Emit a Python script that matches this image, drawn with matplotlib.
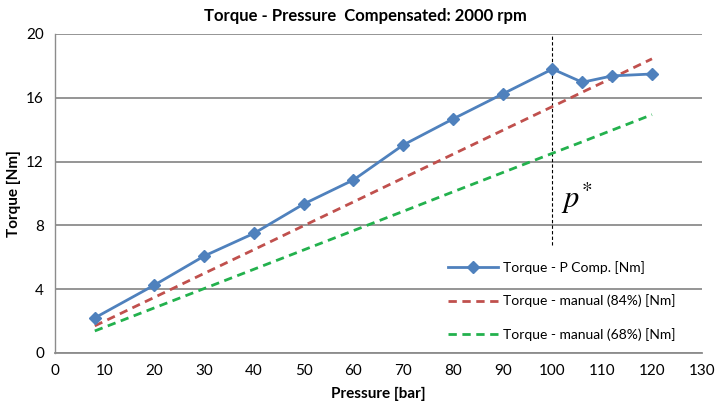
import numpy as np
import matplotlib.pyplot as plt

pressure = [8, 20, 30, 40, 50, 60, 70, 80, 90, 100, 106, 112, 120]
torque_pc = [2.2, 4.26, 6.08, 7.5, 9.34, 10.85, 13.04, 14.67, 16.24, 17.8, 16.97, 17.37, 17.49]
torque_84 = [1.70, 3.49, 4.99, 6.48, 7.98, 9.47, 10.97, 12.46, 13.96, 15.45, 16.35, 17.24, 18.44]
torque_68 = [1.38, 2.83, 4.04, 5.25, 6.46, 7.67, 8.88, 10.10, 11.31, 12.52, 13.24, 13.97, 14.94]
p_star = 100
p_star_range = [6.8, 20]

plt.rcParams['font.family'] = ['Lato', 'DejaVu Sans']

fig = plt.figure(figsize=(7.17, 4.09), dpi=100)
ax = fig.add_axes([0.0767, 0.137, 0.902, 0.780])

ax.plot(pressure, torque_pc, color='#4F81BD', lw=2, marker='D', ms=6,
        label='Torque - P Comp. [Nm]', zorder=4)
ax.plot(pressure, torque_84, color='#C0504D', lw=2, ls=(0, (3, 2)),
        label='Torque - manual (84%) [Nm]', zorder=3)
ax.plot(pressure, torque_68, color='#23B14D', lw=2, ls=(0, (3, 2)),
        label='Torque - manual (68%) [Nm]', zorder=3)

# p* marker line
ax.plot([p_star, p_star], p_star_range, color='black', lw=0.8, ls=(0, (3, 2)), zorder=2)
ax.text(101.8, 9.7, r'$p^{\!*}$', fontsize=22, math_fontfamily='stix', va='center', ha='left')

ax.set_xlim(0, 130)
ax.set_ylim(0, 20)
ax.set_xticks(np.arange(0, 131, 10))
ax.set_yticks(np.arange(0, 21, 4))
ax.yaxis.grid(True, color='#8C8C8C', lw=1.3)
ax.set_axisbelow(True)
ax.tick_params(length=0, labelsize=11, pad=8)

for s in ['top', 'right']:
    ax.spines[s].set_visible(False)
ax.spines['left'].set_color('#8C8C8C')
ax.spines['bottom'].set_color('#8C8C8C')
ax.spines['left'].set_linewidth(1.0)
ax.spines['bottom'].set_linewidth(1.3)

fig.text(0.509, 0.962, 'Torque - Pressure  Compensated: 2000 rpm', fontsize=12,
         fontweight='bold', ha='center', va='center')
ax.set_xlabel('Pressure [bar]', fontsize=11, fontweight='bold', labelpad=6)
ax.set_ylabel('Torque [Nm]', fontsize=11, fontweight='bold', labelpad=4)

ax.legend(loc='center left', bbox_to_anchor=(0.607, 0.163), frameon=False, fontsize=10,
          labelspacing=1.5, handlelength=3.6, handletextpad=0.4,
          borderaxespad=0, borderpad=0)

fig.savefig('out.png', dpi=100)
